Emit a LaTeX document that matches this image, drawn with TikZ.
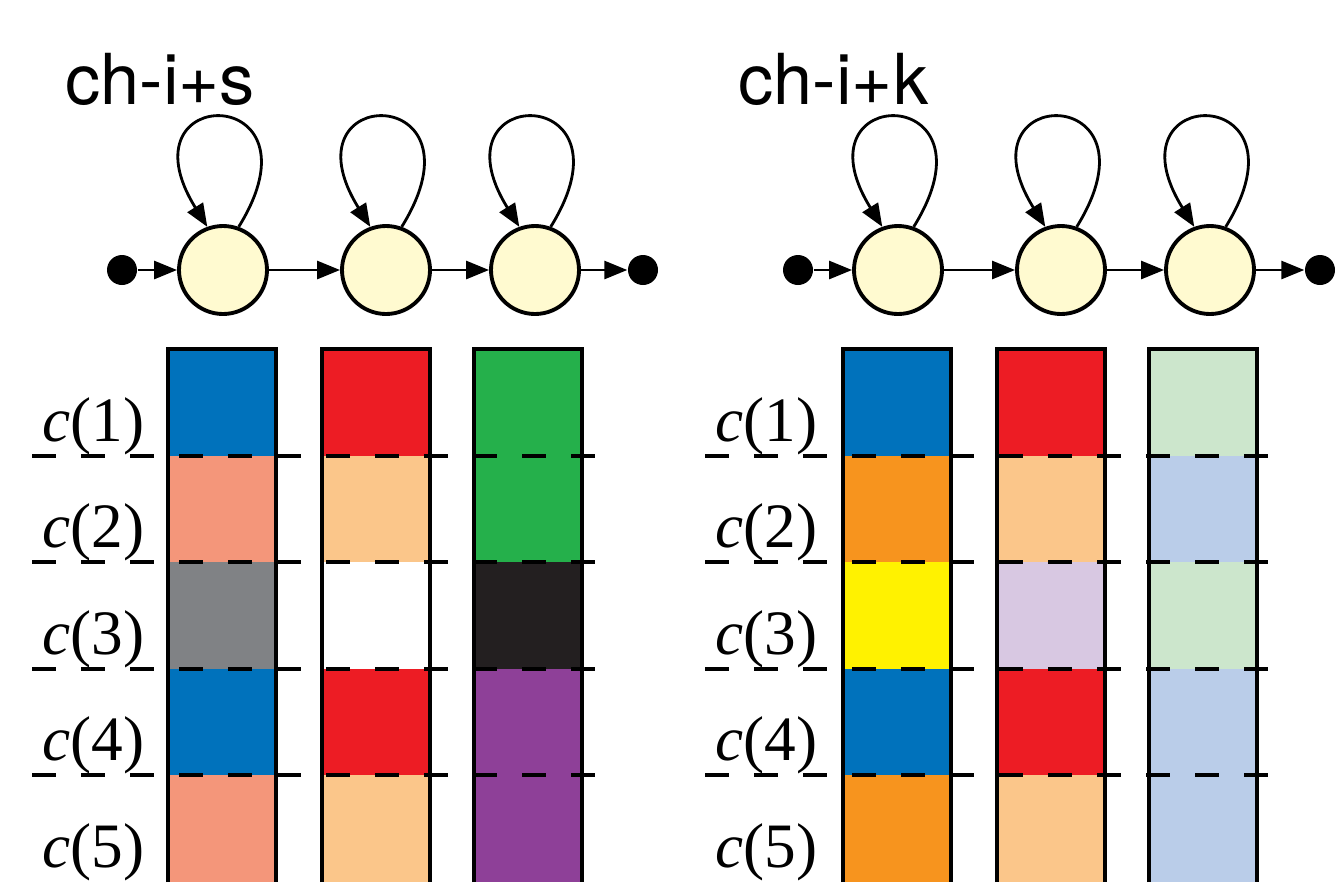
\documentclass[tikz,border=0pt]{standalone}
\usepackage{fontspec}
\setmainfont{Liberation Serif}
\setsansfont{TeX Gyre Heros}
\usetikzlibrary{arrows.meta}
\definecolor{stateyellow}{RGB}{255,250,208}
\definecolor{cblue}{RGB}{0,114,188}
\definecolor{csalmon}{RGB}{244,150,122}
\definecolor{cgray}{RGB}{128,130,133}
\definecolor{cred}{RGB}{237,28,36}
\definecolor{cpeach}{RGB}{251,198,138}
\definecolor{cgreen}{RGB}{37,176,75}
\definecolor{cdark}{RGB}{35,31,32}
\definecolor{cpurple}{RGB}{142,64,152}
\definecolor{corange}{RGB}{247,148,30}
\definecolor{cyellow}{RGB}{255,242,0}
\definecolor{clavender}{RGB}{216,200,226}
\definecolor{cpalegreen}{RGB}{204,230,204}
\definecolor{cpaleblue}{RGB}{186,205,233}
\tikzstyle{state}=[circle, draw, line width=1.1pt, fill=stateyellow, minimum size=0.88cm, inner sep=0pt]
\tikzstyle{dot}=[circle, fill=black, minimum size=0.3cm, inner sep=0pt]
\tikzstyle{trans}=[line width=0.8pt, -{Triangle[length=2.3mm, width=1.8mm]}]
\tikzstyle{colbox}=[line width=1.1pt]
\tikzstyle{sep}=[line width=0.9pt, dash pattern=on 0.24cm off 0.25cm]
\tikzstyle{title}=[anchor=base west, inner sep=0pt, font=\sffamily\fontsize{20}{24}\selectfont]
\tikzstyle{rowlabel}=[anchor=base east, inner sep=0pt, font=\fontsize{18}{20}\selectfont]

\begin{document}
\begin{tikzpicture}
	\useasboundingbox (0,0) rectangle (13.42,8.82);
	% left model
	\draw (0.65,7.78) node[title] (ta) {ch-i+s};
	\draw (1.22,6.12) node[dot] (a0) {};
	\draw (2.23,6.12) node[state] (a1) {};
	\draw (3.86,6.12) node[state] (a2) {};
	\draw (5.35,6.12) node[state] (a3) {};
	\draw (6.43,6.12) node[dot] (a4) {};
	\draw[trans] (a0) -- (a1);
	\draw[trans] (a1) -- (a2);
	\draw[trans] (a2) -- (a3);
	\draw[trans] (a3) -- (a4);
	\draw[trans] (a1.70) .. controls +(0.9,1.45) and +(-0.9,1.45) .. (a1.110);
	\draw[trans] (a2.70) .. controls +(0.9,1.45) and +(-0.9,1.45) .. (a2.110);
	\draw[trans] (a3.70) .. controls +(0.9,1.45) and +(-0.9,1.45) .. (a3.110);
	%
	\fill[cblue] (1.68,5.33) rectangle (2.76,4.26);
	\fill[csalmon] (1.68,4.26) rectangle (2.76,3.20);
	\fill[cgray] (1.68,3.20) rectangle (2.76,2.13);
	\fill[cblue] (1.68,2.13) rectangle (2.76,1.07);
	\fill[csalmon] (1.68,1.07) rectangle (2.76,0);
	\fill[cred] (3.22,5.33) rectangle (4.30,4.26);
	\fill[cpeach] (3.22,4.26) rectangle (4.30,3.20);
	\fill[cred] (3.22,2.13) rectangle (4.30,1.07);
	\fill[cpeach] (3.22,1.07) rectangle (4.30,0);
	\fill[cgreen] (4.74,5.33) rectangle (5.82,3.20);
	\fill[cdark] (4.74,3.20) rectangle (5.82,2.13);
	\fill[cpurple] (4.74,2.13) rectangle (5.82,0);
	\draw[colbox] (1.68,0) -- (1.68,5.33) -- (2.76,5.33) -- (2.76,0);
	\draw[colbox] (3.22,0) -- (3.22,5.33) -- (4.30,5.33) -- (4.30,0);
	\draw[colbox] (4.74,0) -- (4.74,5.33) -- (5.82,5.33) -- (5.82,0);
	%
	\draw[sep] (0.32,4.26) -- (5.95,4.26);
	\draw[sep] (0.32,3.20) -- (5.95,3.20);
	\draw[sep] (0.32,2.13) -- (5.95,2.13);
	\draw[sep] (0.32,1.07) -- (5.95,1.07);
	\draw (1.45,4.41) node[rowlabel] (la1) {\textit{c}(1)};
	\draw (1.45,3.35) node[rowlabel] (la2) {\textit{c}(2)};
	\draw (1.45,2.28) node[rowlabel] (la3) {\textit{c}(3)};
	\draw (1.45,1.22) node[rowlabel] (la4) {\textit{c}(4)};
	\draw (1.45,0.15) node[rowlabel] (la5) {\textit{c}(5)};
	% right model
	\draw (7.38,7.78) node[title] (tb) {ch-i+k};
	\draw (7.98,6.12) node[dot] (b0) {};
	\draw (8.98,6.12) node[state] (b1) {};
	\draw (10.61,6.12) node[state] (b2) {};
	\draw (12.10,6.12) node[state] (b3) {};
	\draw (13.20,6.12) node[dot] (b4) {};
	\draw[trans] (b0) -- (b1);
	\draw[trans] (b1) -- (b2);
	\draw[trans] (b2) -- (b3);
	\draw[trans] (b3) -- (b4);
	\draw[trans] (b1.70) .. controls +(0.9,1.45) and +(-0.9,1.45) .. (b1.110);
	\draw[trans] (b2.70) .. controls +(0.9,1.45) and +(-0.9,1.45) .. (b2.110);
	\draw[trans] (b3.70) .. controls +(0.9,1.45) and +(-0.9,1.45) .. (b3.110);
	%
	\fill[cblue] (8.43,5.33) rectangle (9.51,4.26);
	\fill[corange] (8.43,4.26) rectangle (9.51,3.20);
	\fill[cyellow] (8.43,3.20) rectangle (9.51,2.13);
	\fill[cblue] (8.43,2.13) rectangle (9.51,1.07);
	\fill[corange] (8.43,1.07) rectangle (9.51,0);
	\fill[cred] (9.97,5.33) rectangle (11.05,4.26);
	\fill[cpeach] (9.97,4.26) rectangle (11.05,3.20);
	\fill[clavender] (9.97,3.20) rectangle (11.05,2.13);
	\fill[cred] (9.97,2.13) rectangle (11.05,1.07);
	\fill[cpeach] (9.97,1.07) rectangle (11.05,0);
	\fill[cpalegreen] (11.49,5.33) rectangle (12.57,4.26);
	\fill[cpaleblue] (11.49,4.26) rectangle (12.57,3.20);
	\fill[cpalegreen] (11.49,3.20) rectangle (12.57,2.13);
	\fill[cpaleblue] (11.49,2.13) rectangle (12.57,0);
	\draw[colbox] (8.43,0) -- (8.43,5.33) -- (9.51,5.33) -- (9.51,0);
	\draw[colbox] (9.97,0) -- (9.97,5.33) -- (11.05,5.33) -- (11.05,0);
	\draw[colbox] (11.49,0) -- (11.49,5.33) -- (12.57,5.33) -- (12.57,0);
	%
	\draw[sep] (7.05,4.26) -- (12.68,4.26);
	\draw[sep] (7.05,3.20) -- (12.68,3.20);
	\draw[sep] (7.05,2.13) -- (12.68,2.13);
	\draw[sep] (7.05,1.07) -- (12.68,1.07);
	\draw (8.18,4.41) node[rowlabel] (lb1) {\textit{c}(1)};
	\draw (8.18,3.35) node[rowlabel] (lb2) {\textit{c}(2)};
	\draw (8.18,2.28) node[rowlabel] (lb3) {\textit{c}(3)};
	\draw (8.18,1.22) node[rowlabel] (lb4) {\textit{c}(4)};
	\draw (8.18,0.15) node[rowlabel] (lb5) {\textit{c}(5)};
\end{tikzpicture}
\end{document}
